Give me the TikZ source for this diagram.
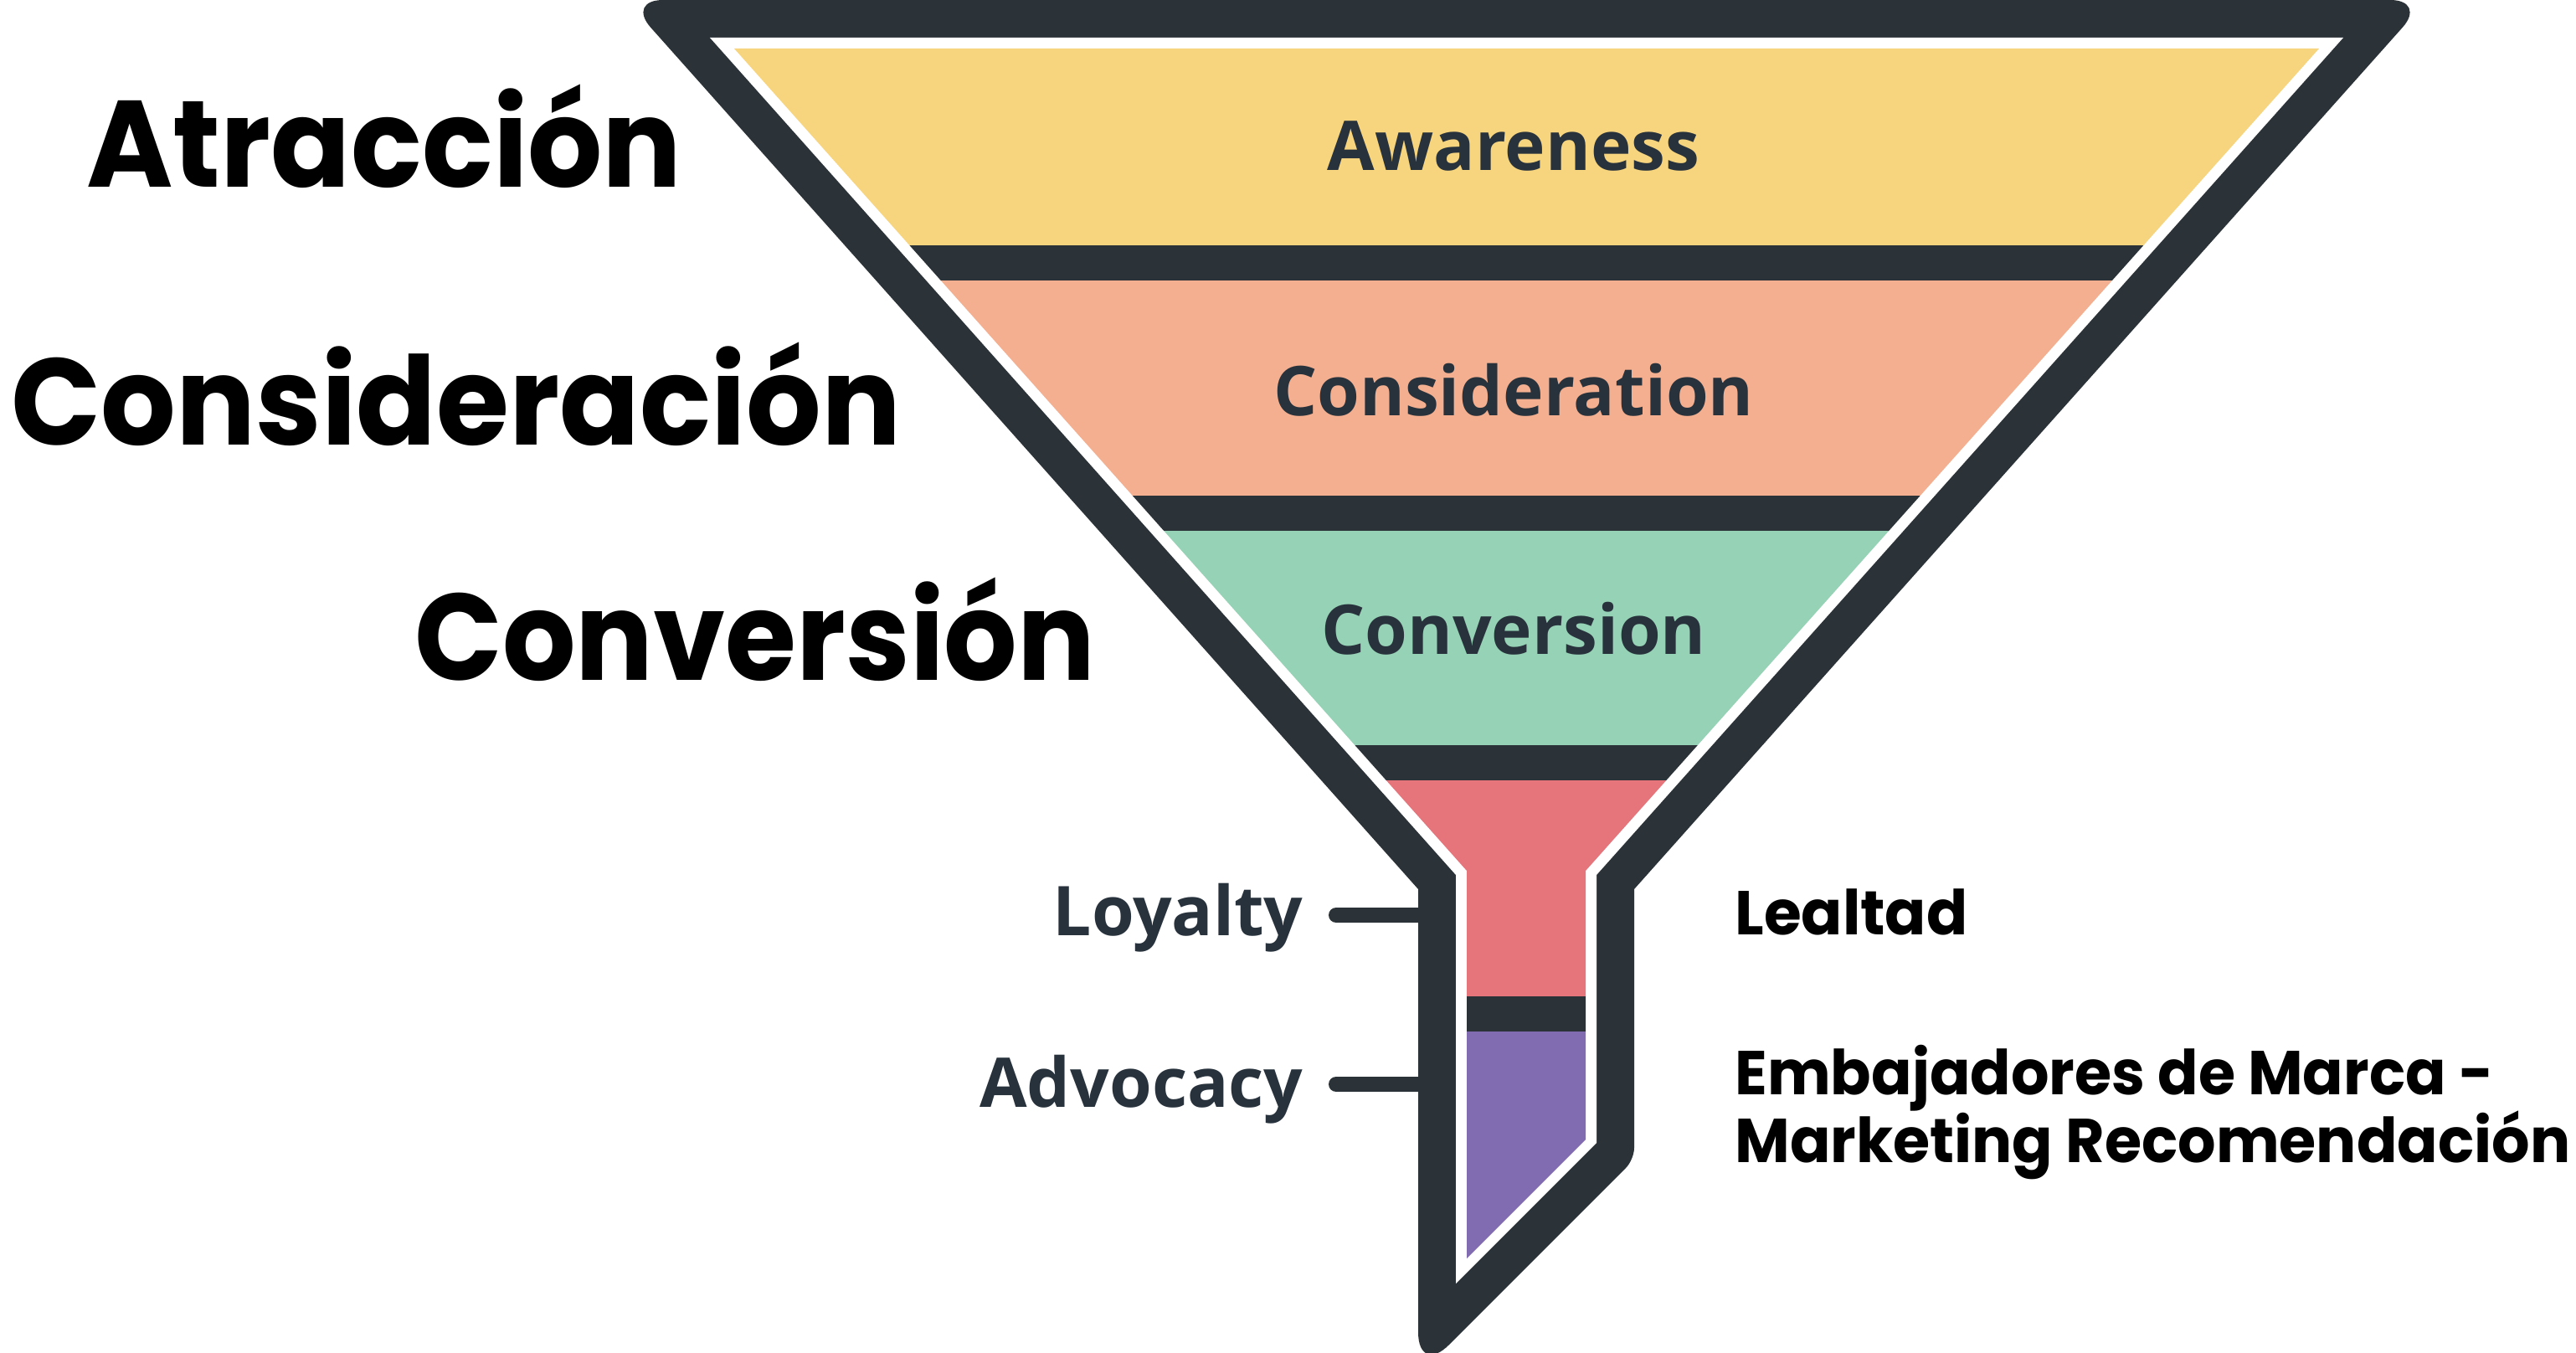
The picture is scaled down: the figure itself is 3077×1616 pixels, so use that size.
\documentclass[tikz,border=0pt]{standalone}
\usepackage{fontspec}
\newfontfamily\popf{Poppins}
\newfontfamily\opsf{Open Sans}
\definecolor{fdark}{HTML}{2B3238}
\definecolor{fyellow}{HTML}{F7D57F}
\definecolor{fsalmon}{HTML}{F3AF8F}
\definecolor{fgreen}{HTML}{96D2B5}
\definecolor{fred}{HTML}{E5747B}
\definecolor{fpurple}{HTML}{826CB1}
\definecolor{fslate}{HTML}{28323C}
\newsavebox\fitbox
\newcommand\fitw[2]{\sbox\fitbox{#2}\pgfmathsetmacro\fitr{(#1)/(\the\wd\fitbox)}\scalebox{\fitr}[1]{\usebox\fitbox}}
\tikzset{
  biglabel/.style={anchor=base west, inner sep=0pt, text=black},
  stagelabel/.style={anchor=base, inner sep=0pt, text=fslate, font=\opsf\bfseries\fontsize{41pt}{48pt}\selectfont},
  sidelabel/.style={anchor=base east, inner sep=0pt, text=fslate, font=\opsf\bfseries\fontsize{41pt}{48pt}\selectfont},
  ticksty/.style={draw=fdark, line width=9pt, line cap=round},
  sepband/.style={fill=fdark}
}
\begin{document}
\begin{tikzpicture}[x=0.5pt, y=-0.5pt]
\useasboundingbox (0,0) rectangle (3077,1616);
\fill[white] (0,0) rectangle (3077,1616);
% leader ticks
\coordinate (loyS) at (1596,1093);
\coordinate (loyE) at (1710,1093);
\coordinate (advS) at (1596,1295);
\coordinate (advE) at (1710,1295);
\draw[ticksty] (loyS) -- (loyE);
\draw[ticksty] (advS) -- (advE);
% outer dark border
\fill[fdark] (1823,0) [rounded corners=22pt] -- (748,0) [sharp corners] -- (1694,1062) [rounded corners=26pt] -- (1694,1643) [rounded corners=7pt] -- (1952,1385) [sharp corners] -- (1952,1062) [rounded corners=22pt] -- (2899,0) -- cycle;
% white gap
\fill[white] (848,45) -- (1739,1045) -- (1739,1533) -- (1907,1365) -- (1907,1045) -- (2799,45) -- cycle;
% bands
\begin{scope}
\clip (877,58) -- (1752,1040) -- (1752,1503) -- (1894,1361) -- (1894,1040) -- (2770,58) -- cycle;
\fill[fyellow] (700,0) rectangle (3000,293);
\fill[sepband] (700,293) rectangle (3000,335);
\fill[fsalmon] (700,335) rectangle (3000,592);
\fill[sepband] (700,592) rectangle (3000,634);
\fill[fgreen] (700,634) rectangle (3000,890);
\fill[sepband] (700,890) rectangle (3000,932);
\fill[fred] (700,932) rectangle (3000,1190);
\fill[sepband] (700,1190) rectangle (3000,1232);
\fill[fpurple] (700,1232) rectangle (3000,1700);
\end{scope}
% stage labels
\node[stagelabel] (aw) at (1808,203) {Awareness};
\node[stagelabel] (co) at (1808,496) {Consideration};
\node[stagelabel] (cv) at (1808,781) {Conversion};
\node[sidelabel] (loy) at (1557,1117) {Loyalty};
\node[sidelabel] (adv) at (1557,1322) {Advocacy};
% Spanish labels
\node[biglabel] (atr) at (103,223) {\fitw{355.5pt}{\popf\bfseries\fontsize{73.5pt}{80pt}\selectfont Atracción}};
\node[biglabel] (cons) at (13,531) {\fitw{531.5pt}{\popf\bfseries\fontsize{73.5pt}{80pt}\selectfont Consideración}};
\node[biglabel] (conv) at (495,812) {\fitw{406.5pt}{\popf\bfseries\fontsize{73.5pt}{80pt}\selectfont Conversión}};
\node[biglabel] (leal) at (2072,1116) {\fitw{139pt}{\popf\bfseries\fontsize{37pt}{31.5pt}\selectfont Lealtad}};
\node[biglabel] (emb) at (2072,1307) {\fitw{499pt}{\popf\bfseries\fontsize{37pt}{31.5pt}\selectfont\begin{tabular}[t]{@{}l@{}}Embajadores de Marca -\\Marketing Recomendación\end{tabular}}};
\end{tikzpicture}
\end{document}
